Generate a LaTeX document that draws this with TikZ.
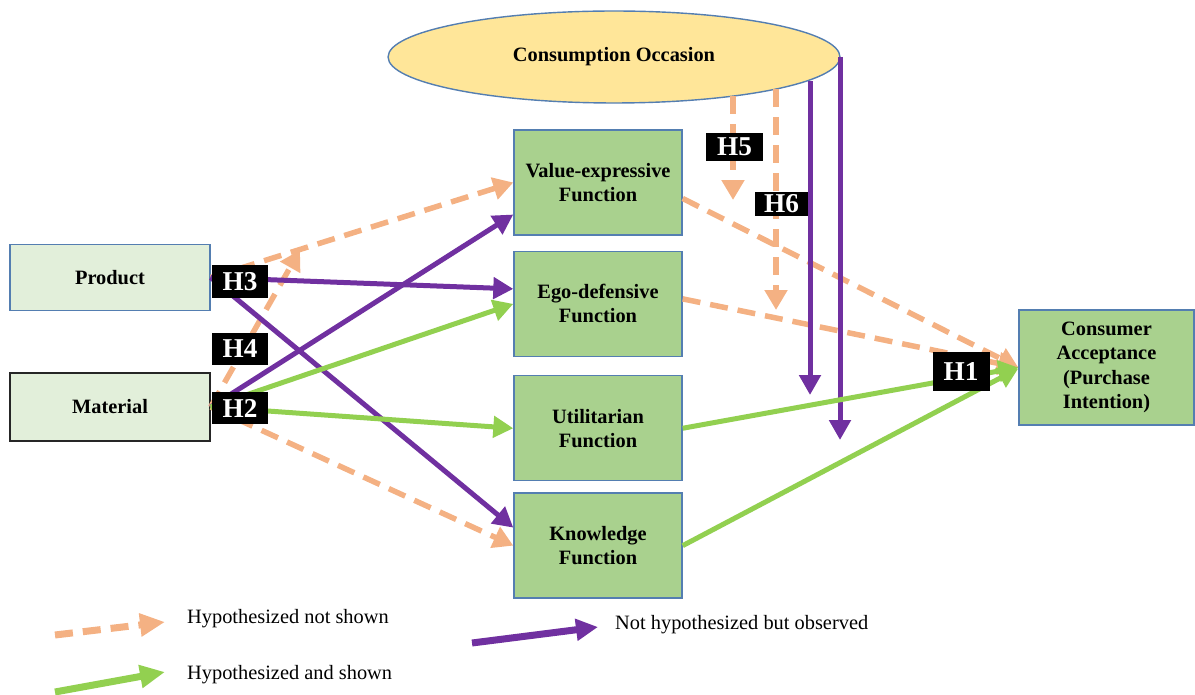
\documentclass[tikz,border=0pt]{standalone}
\usepackage{fontspec}
\setmainfont{Liberation Serif}
\usetikzlibrary{shapes.geometric, arrows.meta, positioning, calc}
\definecolor{boxgreen}{RGB}{169,209,142}
\definecolor{palegreen}{RGB}{226,239,218}
\definecolor{occyellow}{RGB}{255,230,153}
\definecolor{edgeblue}{RGB}{84,126,177}
\definecolor{hypoorange}{RGB}{244,177,131}
\definecolor{obspurple}{RGB}{112,48,160}
\definecolor{showngreen}{RGB}{146,208,80}

\begin{document}
\begin{tikzpicture}[
    x=0.02cm, y=-0.02cm,
    box/.style={rectangle, draw=edgeblue, line width=0.8pt, fill=boxgreen,
                minimum width=3.36cm, minimum height=2.1cm, align=center,
                inner sep=2pt, font=\fontsize{11.6}{13.6}\selectfont\bfseries},
    srcbox/.style={box, fill=palegreen, minimum width=4cm, minimum height=1.32cm},
    hlabel/.style={rectangle, fill=black, text=white, inner sep=0pt,
                   minimum width=1.14cm, minimum height=0.66cm,
                   font=\fontsize{15.5}{16}\selectfont\bfseries},
    hyp/.style={-{Triangle[length=0.4cm,width=0.44cm]}, line width=0.11cm,
                color=hypoorange, dash pattern=on 0.36cm off 0.2cm},
    obs/.style={-{Triangle[length=0.4cm,width=0.42cm]}, line width=0.1cm, color=obspurple},
    shown/.style={-{Triangle[length=0.4cm,width=0.42cm]}, line width=0.1cm, color=showngreen},
    legtext/.style={anchor=west, font=\fontsize{11.6}{14}\selectfont}
]
\useasboundingbox (0,0) rectangle (1195,695);

\node[ellipse, draw=edgeblue, line width=0.8pt, fill=occyellow, minimum width=9.04cm,
      minimum height=1.84cm, inner sep=0pt, font=\fontsize{11.6}{13.6}\selectfont\bfseries]
      (occ) at (614,57) {Consumption Occasion};
\node[srcbox] (prod) at (110,277.5) {Product};
\node[srcbox, draw=black!85, minimum height=1.36cm] (matl) at (110,407) {Material};
\node[box] (val) at (598,182.5) {Value-expressive\\Function};
\node[box, below=0.3cm of val]  (ego)  {Ego-defensive\\Function};
\node[box, below=0.36cm of ego]  (util) {Utilitarian\\Function};
\node[box, below=0.22cm of util] (know) {Knowledge\\Function};
\node[box, minimum width=3.5cm, minimum height=2.3cm,
      font=\fontsize{11.6}{13.9}\selectfont\bfseries]
      (cons) at (1106.5,367.5) {Consumer\\Acceptance\\(Purchase\\Intention)};

\coordinate (h4tip) at (300,250);
\coordinate (h5tip) at (733,200);
\coordinate (h6tip) at (776,310);
\coordinate (p4tip) at (810,395);
\coordinate (p5tip) at (840,440);

\draw[hyp] (prod.east) -- (val.west);
\draw[hyp] (matl.east) -- (h4tip);
\draw[hyp] (matl.east) -- (know.west);
\draw[hyp] ($(val.east)+(0,16)$) -- (cons.west);
\draw[hyp] ($(ego.east)+(0,-5)$) -- (cons.west);
\draw[hyp] (h5tip |- occ.-18) -- (h5tip);
\draw[hyp] (h6tip |- occ.-11) -- (h6tip);

\draw[obs] (prod.east) -- ($(ego.west)+(0,-15)$);
\draw[obs] (prod.east) -- ($(know.west)+(0,-18)$);
\draw[obs] (matl.east) -- ($(val.west)+(0,32)$);
\draw[obs] (p4tip |- occ.-7) -- (p4tip);
\draw[obs] (p5tip |- occ.east) -- (p5tip);

\draw[shown] (matl.east) -- (ego.west);
\draw[shown] (matl.east) -- (util.west);
\draw[shown] (util.east) -- (cons.west);
\draw[shown] (know.east) -- ($(cons.west)+(0,1)$);

\node[hlabel, minimum height=0.78cm] (h1) at (961,371.5) {H1};
\node[hlabel] (h2) at (240,408) {H2};
\node[hlabel] (h3) at (240,281.5) {H3};
\node[hlabel] (h4) at (240,349) {H4};
\node[hlabel, minimum height=0.56cm] (h5) at (734.5,147) {H5};
\node[hlabel, minimum width=1.06cm, minimum height=0.48cm] (h6) at (781.5,204) {H6};

\coordinate (lg1s) at (55,635);  \coordinate (lg1e) at (165,622);
\coordinate (lg2s) at (55,692);  \coordinate (lg2e) at (165,672);
\coordinate (lg3s) at (472,643); \coordinate (lg3e) at (598,627);
\draw[hyp, line width=0.14cm, -{Triangle[length=0.5cm,width=0.44cm]}] (lg1s) -- (lg1e);
\draw[shown, line width=0.14cm, -{Triangle[length=0.5cm,width=0.44cm]}] (lg2s) -- (lg2e);
\draw[obs, line width=0.14cm, -{Triangle[length=0.44cm,width=0.42cm]}] (lg3s) -- (lg3e);
\node[legtext] (lt1) at (181,619) {Hypothesized not shown};
\node[legtext] (lt2) at (181,675) {Hypothesized and shown};
\node[legtext] (lt3) at (609,625) {Not hypothesized but observed};
\end{tikzpicture}
\end{document}
